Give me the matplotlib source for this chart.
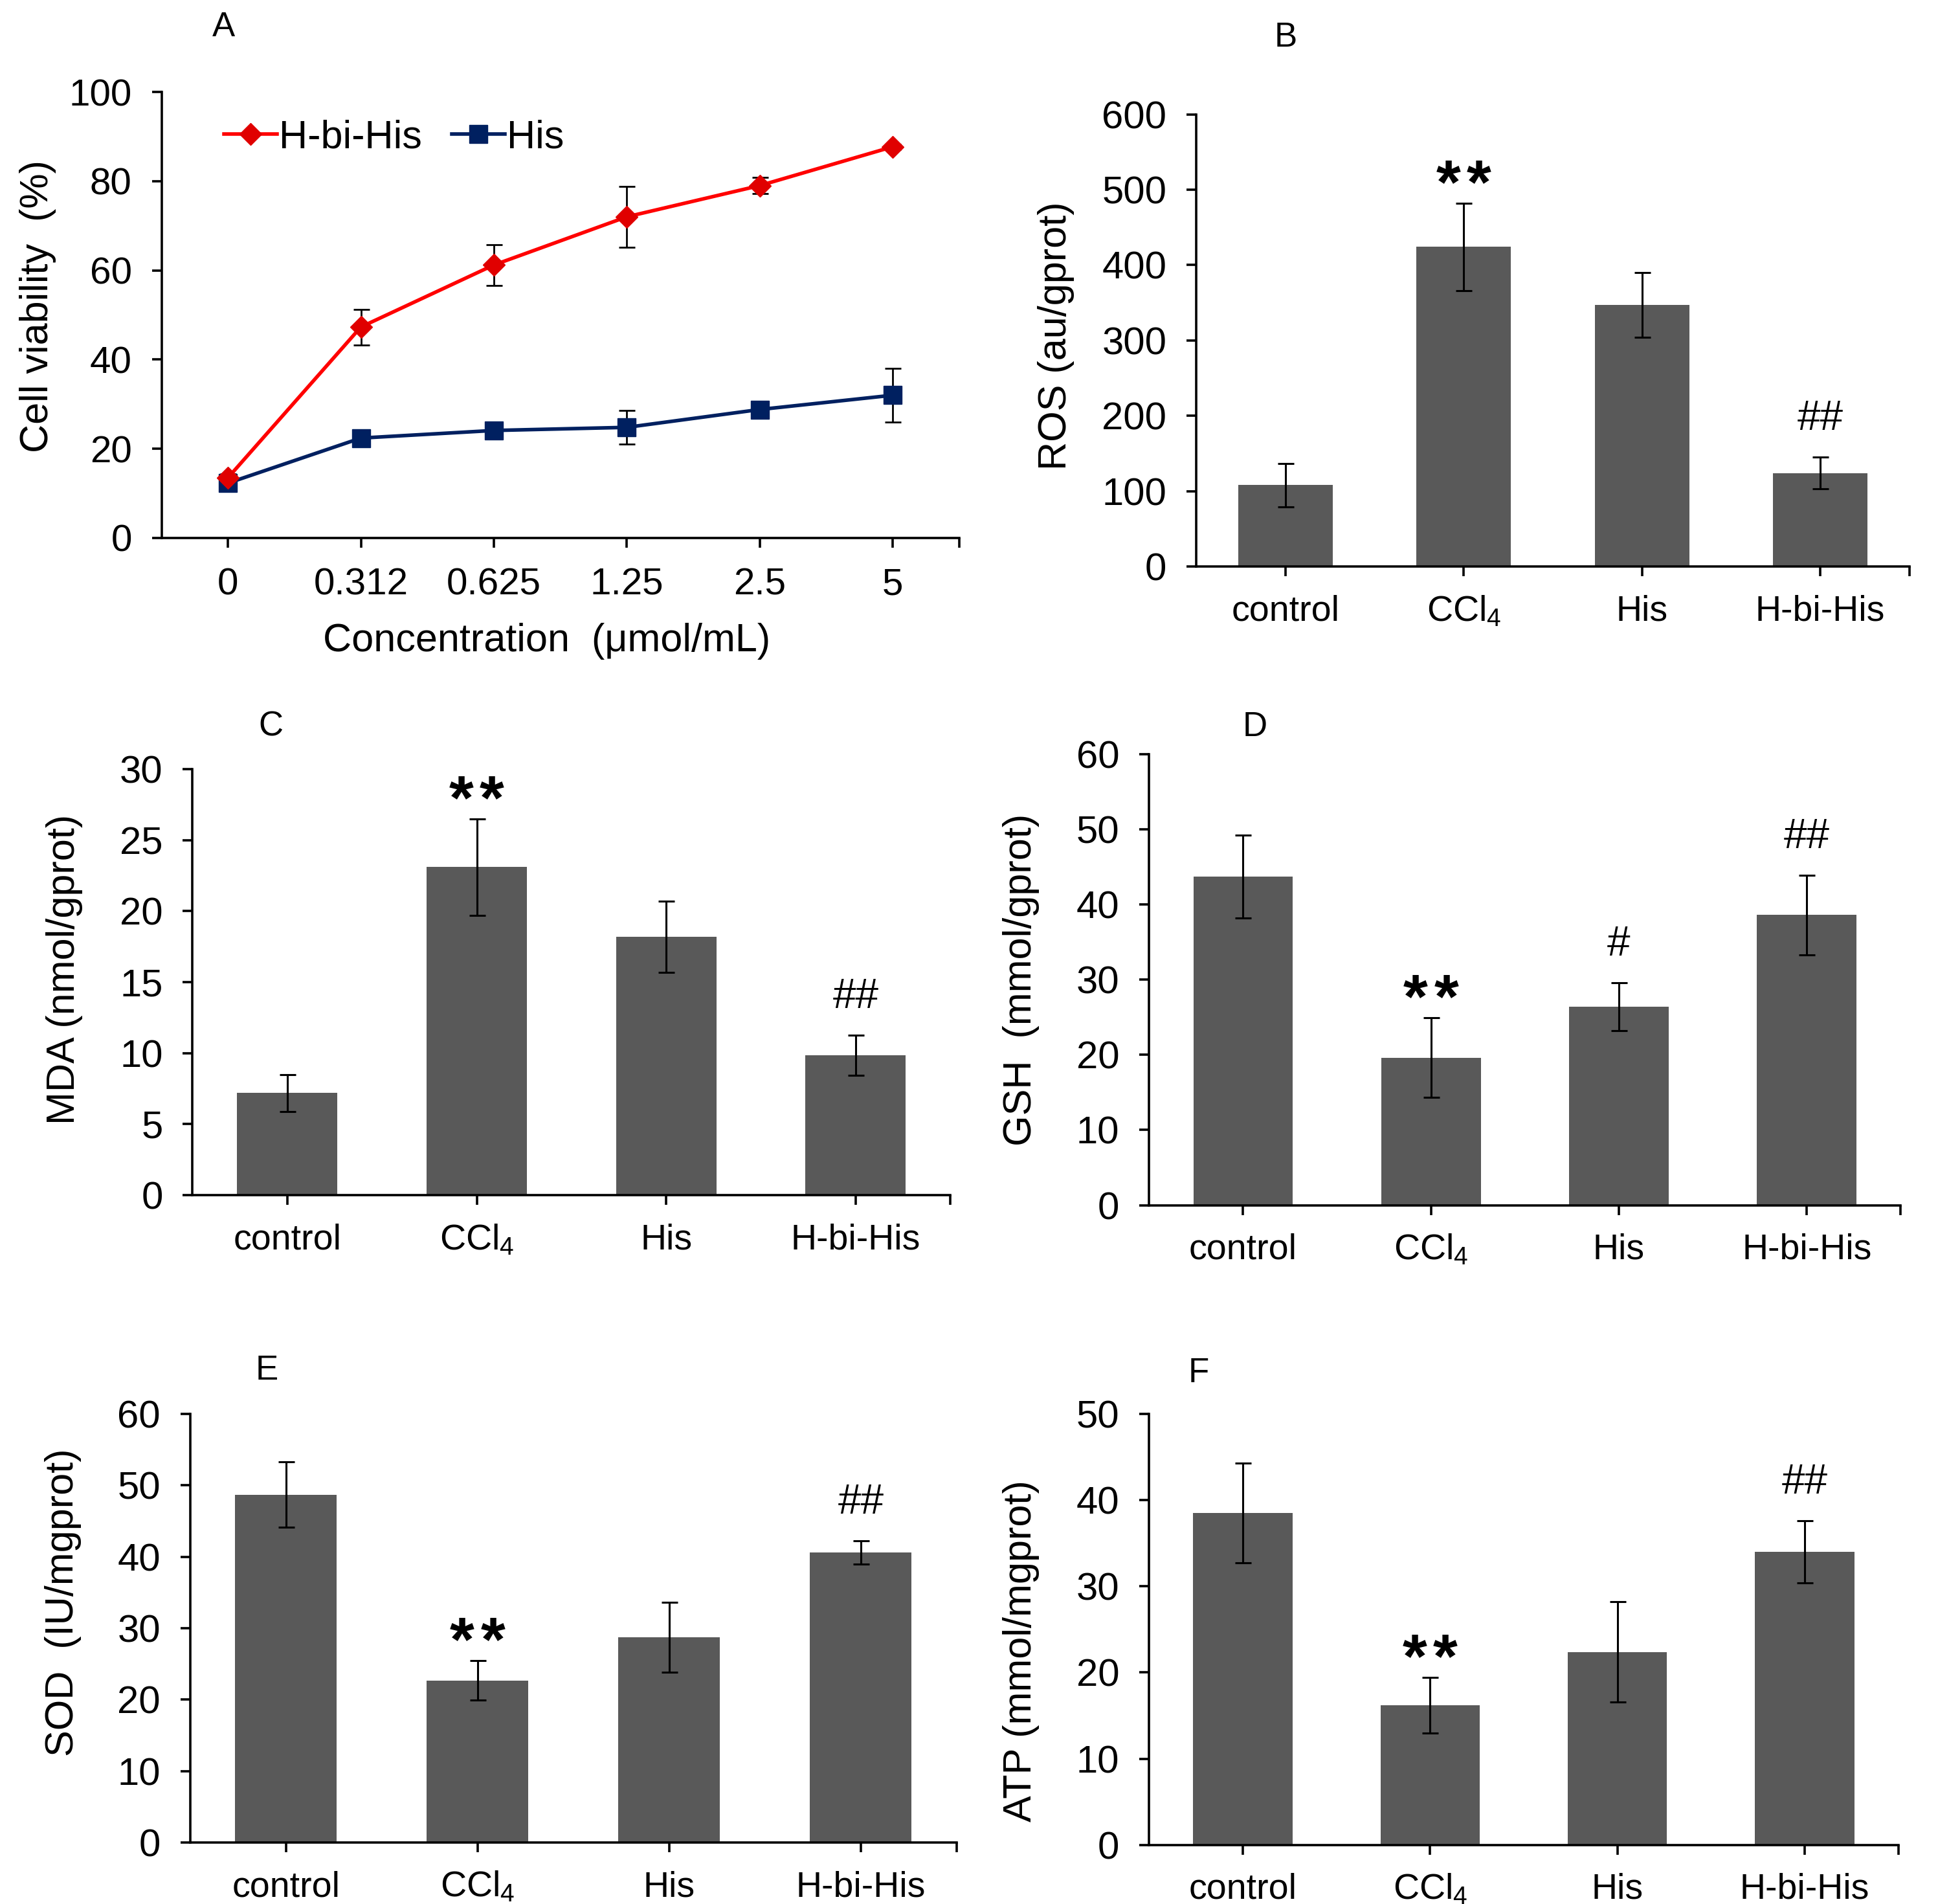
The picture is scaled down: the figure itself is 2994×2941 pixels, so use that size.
import matplotlib
matplotlib.use("Agg")
import matplotlib.pyplot as plt
import numpy as np

plt.rcParams['font.family'] = ['Liberation Sans', 'DejaVu Sans']
plt.rcParams['mathtext.fontset'] = 'custom'
plt.rcParams['mathtext.rm'] = 'Liberation Sans'
plt.rcParams['mathtext.it'] = 'Liberation Sans'
plt.rcParams['mathtext.default'] = 'regular'

# ---------------- data ----------------
conc_labels = ["0", "0.312", "0.625", "1.25", "2.5", "5"]
hbihis_viab = [13.5, 47.3, 61.2, 72.0, 79.0, 87.7]
hbihis_err = [0.8, 4.0, 4.6, 6.8, 1.8, 0.6]
his_viab = [12.3, 22.4, 24.1, 24.8, 28.8, 32.0]
his_err = [0.8, 0.9, 0.8, 3.8, 0.8, 6.0]

groups = ["control", "CCl$_4$", "His", "H-bi-His"]

ros_mean = [108, 424, 347, 124]
ros_err = [29, 58, 43, 21]
ros_sig = ["", "**", "", "##"]

mda_mean = [7.2, 23.1, 18.2, 9.85]
mda_err = [1.3, 3.4, 2.5, 1.4]
mda_sig = ["", "**", "", "##"]

gsh_mean = [43.7, 19.6, 26.4, 38.6]
gsh_err = [5.5, 5.3, 3.2, 5.3]
gsh_sig = ["", "**", "#", "##"]

sod_mean = [48.7, 22.7, 28.7, 40.6]
sod_err = [4.6, 2.8, 4.9, 1.6]
sod_sig = ["", "**", "", "##"]

atp_mean = [38.5, 16.2, 22.4, 34.0]
atp_err = [5.8, 3.2, 5.8, 3.6]
atp_sig = ["", "**", "", "##"]

# ---------------- figure ----------------
W, H = 2994, 2941
fig = plt.figure(figsize=(W / 100, H / 100), dpi=100)
DW, DH = 1560.0, 1532.5  # reference display units


def rect(left, right, top, bottom):
    return [left / DW, 1 - bottom / DH, (right - left) / DW, (bottom - top) / DH]


SPINE_LW = 2.6
BAR_COLOR = '#595959'


def style_axes(ax, tick_fs):
    for s in ['top', 'right']:
        ax.spines[s].set_visible(False)
    for s in ['left', 'bottom']:
        ax.spines[s].set_linewidth(SPINE_LW)
    ax.tick_params(axis='both', direction='out', length=11, width=SPINE_LW,
                   labelsize=tick_fs)
    ax.tick_params(axis='y', pad=22)


def bar_panel(pos, means, errs, sig, ylim, yticks, ylabel, ylab_xy, letter, letter_xy):
    ax = fig.add_axes(rect(*pos))
    x = np.arange(len(groups))
    ax.bar(x, means, width=0.53, color=BAR_COLOR, zorder=2)
    ax.errorbar(x, means, yerr=errs, fmt='none', ecolor='black', elinewidth=2.2,
                capsize=9, capthick=2.2, zorder=3)
    ax.set_xlim(-0.5, 3.5)
    ax.set_ylim(*ylim)
    ax.set_yticks(yticks)
    ax.set_xticks(list(x) + [3.5])
    ax.set_xticklabels(groups + [""])
    style_axes(ax, 43)
    ax.tick_params(axis='x', labelsize=40, pad=20)
    ax.set_ylabel(ylabel, fontsize=44, va='center')
    ax.yaxis.set_label_coords(*ylab_xy)
    for i, s in enumerate(sig):
        if not s:
            continue
        top = means[i] + errs[i]
        if s.startswith('*'):
            for dx in (-17, 17):
                ax.annotate("*", xy=(i, top), xytext=(dx, 0), textcoords='offset points',
                            ha='center', va='baseline', fontsize=70, fontweight='bold')
        else:
            ax.annotate(s, xy=(i, top), xytext=(0, 21), textcoords='offset points',
                        ha='center', va='bottom', fontsize=46)
    fig.text(letter_xy[0] / DW, 1 - letter_xy[1] / DH, letter, fontsize=38,
             ha='center', va='center')
    return ax


# ---------------- panel A ----------------
axA = fig.add_axes(rect(130, 772, 74, 433))
xa = np.arange(len(conc_labels))
axA.errorbar(xa, hbihis_viab, yerr=hbihis_err, fmt='none', ecolor='black',
             elinewidth=2.0, capsize=9, capthick=2.0, zorder=2)
axA.errorbar(xa, his_viab, yerr=his_err, fmt='none', ecolor='black',
             elinewidth=2.0, capsize=9, capthick=2.0, zorder=2)
axA.plot(xa, hbihis_viab, color='#FF0000', lw=4, marker='D', markersize=17,
         markerfacecolor='#E00000', markeredgecolor='#E00000', zorder=4, label='H-bi-His')
axA.plot(xa, his_viab, color='#002060', lw=4, marker='s', markersize=20,
         markerfacecolor='#002060', markeredgecolor='#002060', zorder=3, label='His')
axA.set_xlim(-0.5, 5.5)
axA.set_ylim(0, 100)
axA.set_yticks([0, 20, 40, 60, 80, 100])
axA.set_xticks(list(xa) + [5.5])
axA.set_xticklabels(conc_labels + [""])
style_axes(axA, 42)
axA.tick_params(axis='x', labelsize=42, pad=22)
axA.set_ylabel("Cell viability  (%)", fontsize=44, va='center')
axA.yaxis.set_label_coords(-0.155, 0.52)
axA.set_xlabel("Concentration  (μmol/mL)", fontsize=44, va='center')
axA.xaxis.set_label_coords(0.483, -0.231)
axA.legend(loc='center left', bbox_to_anchor=(0.078, 0.897), ncol=2, frameon=False,
           fontsize=44, handlelength=1.35, handletextpad=0.05, columnspacing=0.75,
           borderaxespad=0, borderpad=0)
fig.text(180 / DW, 1 - 22 / DH, "A", fontsize=38, ha='center', va='center')

# ---------------- bar panels ----------------
bar_panel((963, 1537, 92, 456), ros_mean, ros_err, ros_sig, (0, 600),
          [0, 100, 200, 300, 400, 500, 600], "ROS (au/gprot)", (-0.197, 0.51), "B", (1035, 30))
bar_panel((155, 765, 619, 962), mda_mean, mda_err, mda_sig, (0, 30),
          [0, 5, 10, 15, 20, 25, 30], "MDA (nmol/gprot)", (-0.169, 0.53), "C", (218, 585))
bar_panel((925, 1530, 607, 970), gsh_mean, gsh_err, gsh_sig, (0, 60),
          [0, 10, 20, 30, 40, 50, 60], "GSH  (mmol/gprot)", (-0.170, 0.50), "D", (1010, 585))
bar_panel((153, 770, 1138, 1483), sod_mean, sod_err, sod_sig, (0, 60),
          [0, 10, 20, 30, 40, 50, 60], "SOD  (IU/mgprot)", (-0.166, 0.56), "E", (215, 1103))
bar_panel((925, 1528, 1138, 1485), atp_mean, atp_err, atp_sig, (0, 50),
          [0, 10, 20, 30, 40, 50], "ATP (mmol/mgprot)", (-0.171, 0.45), "F", (965, 1105))

fig.savefig("out.png", dpi=100, facecolor='white')
